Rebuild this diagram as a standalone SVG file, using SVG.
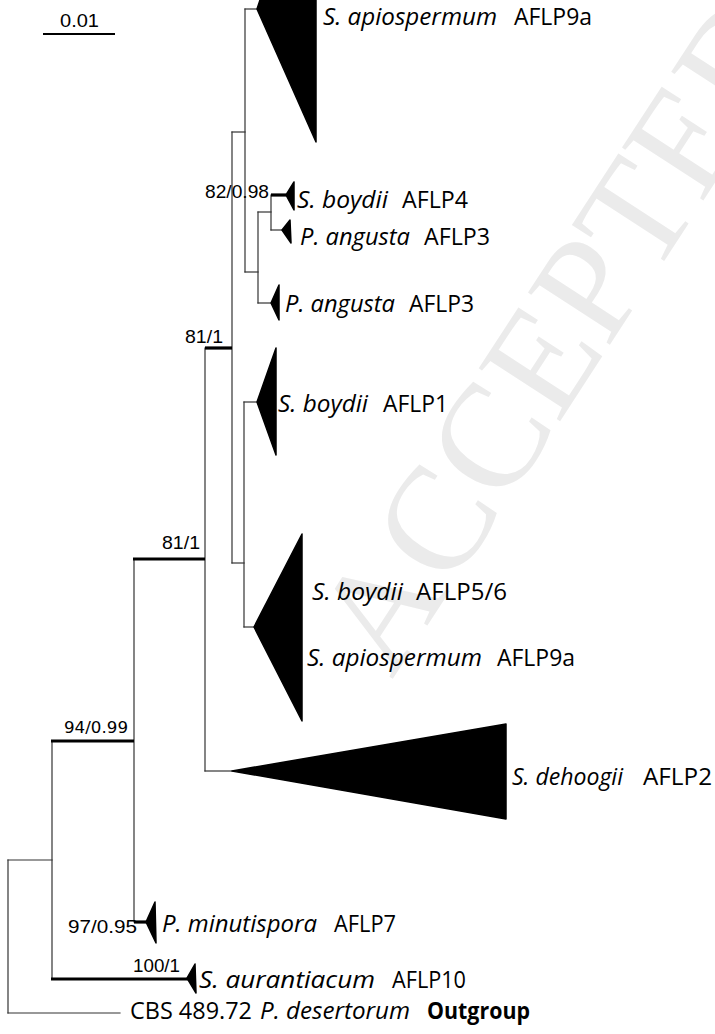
<svg xmlns="http://www.w3.org/2000/svg" width="715" height="1034" viewBox="0 0 715 1034">
<style>
.thin{stroke:#333;stroke-width:1.2;fill:none;stroke-linecap:square}
.thick{stroke:#000;stroke-width:3.2;fill:none;stroke-linecap:butt}
.tri{fill:#000;stroke:#000;stroke-width:1.5;stroke-linejoin:round}
.sp{font-family:"Open Sans","Noto Sans","Liberation Sans",sans-serif;font-size:23px;fill:#000}
.it{font-style:italic}
.bd{font-weight:bold}
.num{font-family:"Liberation Sans",Arial,sans-serif;font-size:19px;fill:#000}
.wm{font-family:"Liberation Serif","Times New Roman",serif;font-size:148px;fill:#ebebeb}
</style>
<rect width="715" height="1034" fill="#fff"/>
<text class="wm" transform="translate(392,680) rotate(-57)">ACCEPTED</text>

<g id="scale">
<line x1="43" y1="34" x2="115" y2="34" stroke="#000" stroke-width="2"/>
<text class="num" x="60" y="27" textLength="39" lengthAdjust="spacingAndGlyphs">0.01</text>
</g>

<g id="connectors">
<line class="thin" x1="245" y1="9" x2="245" y2="272"/>
<line class="thin" x1="245" y1="9" x2="257" y2="9"/>
<line class="thin" x1="245" y1="272" x2="258" y2="272"/>
<line class="thin" x1="258" y1="212" x2="258" y2="303"/>
<line class="thin" x1="258" y1="212" x2="271" y2="212"/>
<line class="thin" x1="258" y1="303" x2="271" y2="303"/>
<line class="thin" x1="271" y1="195" x2="271" y2="230"/>
<line class="thin" x1="271" y1="230" x2="282" y2="230"/>
<line class="thick" x1="271" y1="195" x2="286" y2="195"/>
<line class="thin" x1="232" y1="132" x2="232" y2="563"/>
<line class="thin" x1="232" y1="132" x2="245" y2="132"/>
<line class="thin" x1="232" y1="563" x2="244" y2="563"/>
<line class="thin" x1="244" y1="402" x2="244" y2="627"/>
<line class="thin" x1="244" y1="402" x2="257" y2="402"/>
<line class="thin" x1="244" y1="627" x2="254" y2="627"/>
<line class="thin" x1="205" y1="348" x2="205" y2="771"/>
<line class="thick" x1="205" y1="348" x2="232" y2="348"/>
<line class="thin" x1="205" y1="771" x2="232" y2="771"/>
<line class="thin" x1="134" y1="559" x2="134" y2="922"/>
<line class="thick" x1="133" y1="559" x2="205" y2="559"/>
<line class="thick" x1="134" y1="922" x2="146" y2="922"/>
<line class="thin" x1="52" y1="741" x2="52" y2="979"/>
<line class="thick" x1="51" y1="741" x2="134" y2="741"/>
<line class="thick" x1="51" y1="979" x2="188" y2="979"/>
<line class="thin" x1="8" y1="860" x2="8" y2="1013"/>
<line class="thin" x1="8" y1="860" x2="52" y2="860"/>
<line class="thin" x1="8" y1="1013" x2="120" y2="1013"/>
<text class="num" x="205" y="198" textLength="64" lengthAdjust="spacingAndGlyphs">82/0.98</text>
<text class="num" x="185" y="343" textLength="38" lengthAdjust="spacingAndGlyphs">81/1</text>
<text class="num" x="162" y="549" textLength="38" lengthAdjust="spacingAndGlyphs">81/1</text>
<text x="64" y="733" font-family="DejaVu Sans,Verdana,sans-serif" font-size="16.5" textLength="64" lengthAdjust="spacingAndGlyphs">94/0.99</text>
<text class="num" x="68" y="933" textLength="69" lengthAdjust="spacingAndGlyphs">97/0.95</text>
<text class="num" x="133" y="972" textLength="47" lengthAdjust="spacingAndGlyphs">100/1</text>
</g>

<g id="clade-apiospermum-top">
<polygon class="tri" points="257,9 261,-3 316,-3 316,142"/>
<text class="sp it" x="323" y="25" textLength="174" lengthAdjust="spacingAndGlyphs">S. apiospermum</text>
<text class="sp" x="514" y="25" textLength="78" lengthAdjust="spacingAndGlyphs">AFLP9a</text>
</g>
<g id="clade-boydii-4">
<polygon class="tri" points="286,195 294,182 294,210"/>
<text class="sp it" x="297" y="208" textLength="91" lengthAdjust="spacingAndGlyphs">S. boydii</text>
<text class="sp" x="402" y="208" textLength="66" lengthAdjust="spacingAndGlyphs">AFLP4</text>
</g>
<g id="clade-angusta-3a">
<polygon class="tri" points="282,230 290,220 291,243"/>
<text class="sp it" x="300" y="245" textLength="110" lengthAdjust="spacingAndGlyphs">P. angusta</text>
<text class="sp" x="424" y="245" textLength="66" lengthAdjust="spacingAndGlyphs">AFLP3</text>
</g>
<g id="clade-angusta-3b">
<polygon class="tri" points="271,303 279,285 279,320"/>
<text class="sp it" x="285" y="312" textLength="110" lengthAdjust="spacingAndGlyphs">P. angusta</text>
<text class="sp" x="409" y="312" textLength="65" lengthAdjust="spacingAndGlyphs">AFLP3</text>
</g>
<g id="clade-boydii-1">
<polygon class="tri" points="257,402 276,348 276,455"/>
<text class="sp it" x="278" y="412" textLength="90" lengthAdjust="spacingAndGlyphs">S. boydii</text>
<text class="sp" x="383" y="412" textLength="65" lengthAdjust="spacingAndGlyphs">AFLP1</text>
</g>
<g id="clade-boydii-56-apiospermum">
<polygon class="tri" points="254,627 302,534 302,721"/>
<text class="sp it" x="312" y="600" textLength="91" lengthAdjust="spacingAndGlyphs">S. boydii</text>
<text class="sp" x="416" y="600" textLength="91" lengthAdjust="spacingAndGlyphs">AFLP5/6</text>
<text class="sp it" x="307" y="666" textLength="175" lengthAdjust="spacingAndGlyphs">S. apiospermum</text>
<text class="sp" x="497" y="666" textLength="78" lengthAdjust="spacingAndGlyphs">AFLP9a</text>
</g>
<g id="clade-dehoogii">
<polygon class="tri" points="232,771 506,724 506,819"/>
<text class="sp it" x="512" y="785" textLength="111" lengthAdjust="spacingAndGlyphs">S. dehoogii</text>
<text class="sp" x="643" y="785" textLength="69" lengthAdjust="spacingAndGlyphs">AFLP2</text>
</g>
<g id="clade-minutispora">
<polygon class="tri" points="146,922 155,902 156,943"/>
<text class="sp it" x="162" y="932" textLength="155" lengthAdjust="spacingAndGlyphs">P. minutispora</text>
<text class="sp" x="334" y="932" textLength="62" lengthAdjust="spacingAndGlyphs">AFLP7</text>
</g>
<g id="clade-aurantiacum">
<polygon class="tri" points="187,978 195,964 196,993"/>
<text class="sp it" x="199" y="988" textLength="176" lengthAdjust="spacingAndGlyphs">S. aurantiacum</text>
<text class="sp" x="392" y="988" textLength="74" lengthAdjust="spacingAndGlyphs">AFLP10</text>
</g>
<g id="outgroup">
<text class="sp" x="130" y="1019" textLength="122" lengthAdjust="spacingAndGlyphs">CBS 489.72</text>
<text class="sp it" x="260" y="1019" textLength="150" lengthAdjust="spacingAndGlyphs">P. desertorum</text>
<text class="sp bd" x="427" y="1019" textLength="103" lengthAdjust="spacingAndGlyphs">Outgroup</text>
</g>
</svg>
